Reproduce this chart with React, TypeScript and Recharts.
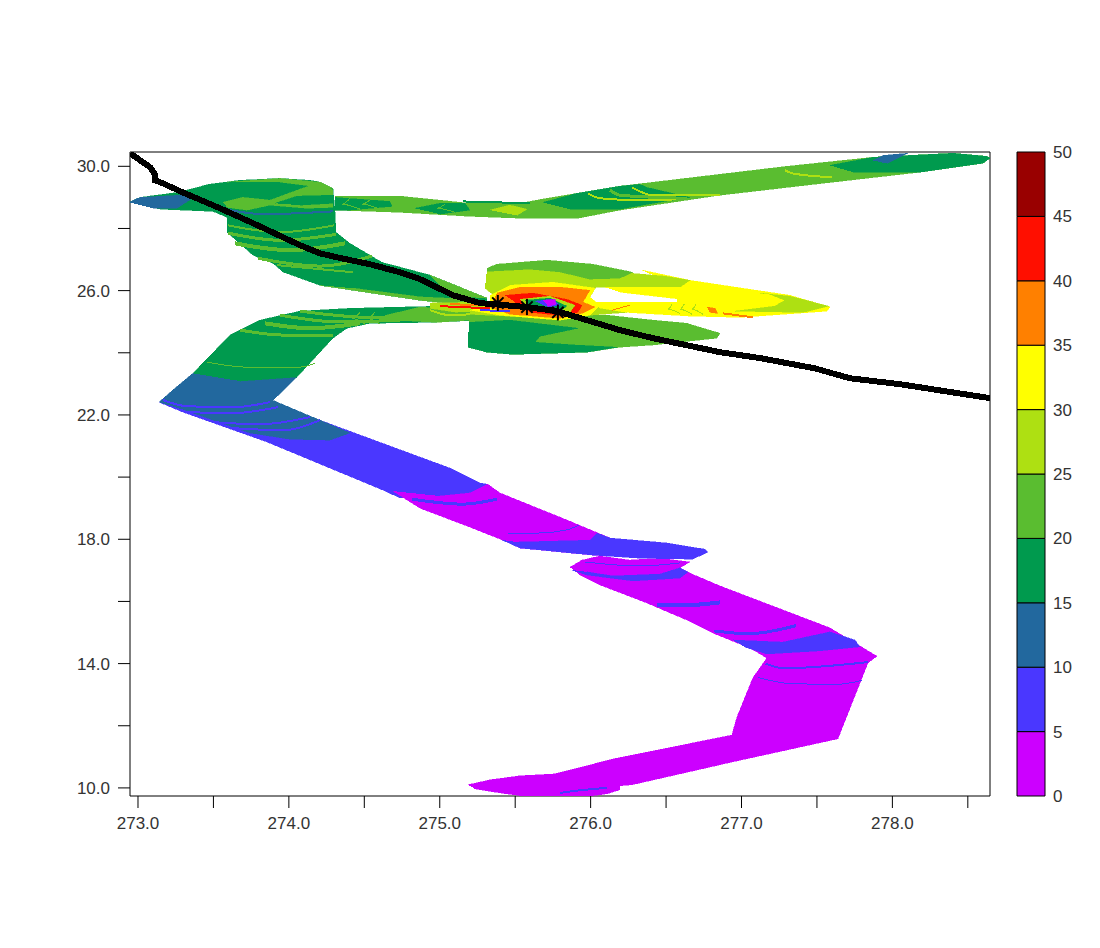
// Swath plot with a track line and a separate stacked colour bar
import { Bar, BarChart, ComposedChart, Scatter, XAxis, YAxis } from "recharts";

type Pt = [number, number];

const xTicks = [273, 273.5, 274, 274.5, 275, 275.5, 276, 276.5, 277, 277.5, 278, 278.5];
const yTicks = [10, 12, 14, 16, 18, 20, 22, 24, 26, 28, 30];
const barTicks = [0, 5, 10, 15, 20, 25, 30, 35, 40, 45, 50];
const barColors = ["#cc00ff", "#4a37ff", "#22689e", "#009a4e", "#5abd30", "#aee012", "#ffff00", "#ff8000", "#ff0f00", "#990000"];
const [c0, c5, c10, c15, c20, c25, c30, c35, c40] = barColors;

// filled areas, lon / lat
const lowerPurple: Pt[] = [[275.187,10.10],[275.333,10.26],[275.531,10.39],[275.763,10.45],[276.148,10.93],[276.936,11.70],[276.97,12.28],[277.075,13.54],[277.168,14.18],[277.32,14.50],[277.897,14.24],[277.838,14.02],[277.639,11.58],[276.943,10.84],[276.274,10.10],[276.194,10.07],[276.194,9.94],[276.108,9.81],[275.995,9.74],[275.551,9.74],[275.399,9.84],[275.233,9.97]];
const upperPurple: Pt[] = [[275.863,17.1],[275.942,17.33],[276.062,17.46],[276.26,17.33],[276.46,17.39],[276.658,17.27],[276.592,17.08],[276.658,16.91],[276.857,16.5],[277.586,15.15],[277.897,14.24],[277.838,14.02],[277.168,14.18],[277.056,14.5],[276.811,14.98],[276.638,15.4],[276.373,15.95],[276.062,16.53],[275.929,16.85]];
const blueSwath: Pt[] = [[273.139,22.41],[273.298,22.09],[273.855,21.13],[274.624,19.58],[274.736,19.33],[275.001,19.39],[275.2,19.49],[275.319,19.77],[275.266,19.81],[275.068,20.29],[274.206,21.83],[273.875,22.41]];
const midPurple: Pt[] = [[274.69,19.55],[274.869,19.0],[275.2,18.39],[275.465,17.88],[275.531,17.72],[276.015,17.49],[276.327,17.46],[276.327,17.81],[276.128,18.04],[275.843,18.62],[275.399,19.49],[275.319,19.77],[275.2,19.49],[275.001,19.39]];
const blueTip: Pt[] = [[275.412,17.98],[275.531,17.72],[276.015,17.49],[276.327,17.39],[276.678,17.36],[276.777,17.59],[276.757,17.68],[276.506,17.88],[276.128,18.04],[276.042,18.2],[275.995,17.97],[275.512,17.91]];
const blueEllipseA: Pt[] = [[275.876,17.01],[275.975,16.85],[276.28,16.66],[276.592,16.75],[276.645,16.95],[276.592,17.08],[276.46,16.88],[276.148,16.82],[275.975,16.95]];
const blueEllipseB: Pt[] = [[276.943,14.76],[277.274,14.69],[277.586,15.02],[277.752,14.76],[277.784,14.54],[277.52,14.41],[277.168,14.31],[277.023,14.53]];
const darkBlue: Pt[] = [[273.139,22.41],[273.245,22.86],[273.364,23.34],[273.61,23.18],[274.054,23.22],[273.895,22.47],[274.206,21.83],[274.405,21.42],[274.272,21.19],[274.007,21.22],[273.742,21.42],[273.312,22.15]];
const greenLower: Pt[] = [[273.364,23.34],[273.61,24.57],[273.808,25.05],[274.074,25.34],[274.405,25.43],[275.001,25.5],[275.2,25.37],[275.266,25.05],[274.935,24.98],[274.537,24.95],[274.385,24.79],[274.292,24.47],[274.054,23.22],[273.676,23.09]];
const greenUpper: Pt[] = [[272.94,28.84],[273.013,29.0],[273.265,29.16],[273.47,29.42],[273.676,29.55],[273.941,29.61],[274.14,29.55],[274.206,29.49],[274.292,29.29],[274.305,28.59],[274.312,27.88],[274.405,27.52],[274.617,26.91],[274.935,26.5],[275.313,25.76],[275.313,25.47],[274.869,25.69],[274.206,26.17],[273.961,26.6],[273.895,26.88],[273.762,27.14],[273.59,27.88],[273.59,28.36],[273.497,28.55],[273.146,28.62]];
const tipBlue: Pt[] = [[272.94,28.84],[273.013,29.0],[273.278,29.07],[273.391,29.07],[273.258,28.65],[273.1,28.65]];
const topLight: Pt[] = [[273.563,28.84],[273.696,29.0],[273.875,28.91],[274.054,29.23],[274.206,29.49],[274.292,29.23],[274.292,28.68],[274.12,28.65],[273.875,28.75],[273.722,28.59],[273.59,28.68]];
const topSwirl: Pt[] = [[273.908,28.81],[274.054,29.04],[274.292,29.07],[274.292,28.81],[274.074,28.75]];
const topRim: Pt[] = [[273.59,29.49],[273.941,29.61],[274.206,29.49],[274.292,29.29],[274.153,29.36],[273.941,29.49]];
const tailLight: Pt[] = [[274.424,26.08],[274.869,25.8],[275.2,25.72],[275.313,25.6],[275.313,25.47],[274.869,25.69],[274.206,26.17]];
const tailRim: Pt[] = [[274.935,26.5],[275.313,25.76],[275.068,25.82]];
const greenRight: Pt[] = [[274.305,29.04],[274.736,29.04],[275.2,28.81],[275.531,28.81],[275.677,28.94],[276.194,29.36],[277.301,30.0],[277.871,30.29],[278.401,30.42],[278.626,30.32],[278.647,30.26],[278.6,30.1],[278.182,29.81],[277.606,29.49],[276.857,29.07],[276.194,28.59],[275.916,28.33],[275.531,28.33],[275.2,28.39],[274.736,28.52],[274.305,28.59]];
const darkEnd: Pt[] = [[277.586,30.03],[277.871,30.29],[278.401,30.42],[278.626,30.32],[278.647,30.26],[278.6,30.1],[278.182,29.81],[277.738,29.81]];
const endBlue: Pt[] = [[277.871,30.19],[277.937,30.35],[278.102,30.42],[277.964,30.09]];
const darkMid: Pt[] = [[275.684,28.84],[275.909,29.13],[276.194,29.36],[276.327,29.42],[276.373,29.32],[276.658,29.0],[276.413,28.81],[276.194,28.62],[275.863,28.62]];
const lensA: Pt[] = [[274.305,29.0],[274.67,28.87],[274.683,28.71],[274.405,28.59],[274.305,28.59]];
const lensB: Pt[] = [[274.836,28.65],[275.001,28.81],[275.167,28.81],[275.2,28.59],[275.001,28.46]];
const ygLens: Pt[] = [[275.333,28.59],[275.465,28.75],[275.578,28.62],[275.512,28.42]];
const lowerEllipse: Pt[] = [[275.2,25.27],[276.108,25.21],[276.413,25.05],[276.638,24.95],[276.724,24.82],[276.857,24.63],[276.837,24.47],[276.413,24.25],[276.194,24.18],[275.975,24.02],[275.484,23.95],[275.313,24.02],[275.187,24.18]];
const lowerDark: Pt[] = [[275.193,24.98],[275.465,25.05],[275.916,24.79],[275.664,24.53],[275.631,24.34],[275.896,24.25],[276.174,24.18],[275.975,24.02],[275.484,23.95],[275.313,24.02],[275.187,24.18]];
const leftLight: Pt[] = [[274.637,25.2],[274.869,25.47],[275.333,25.34],[275.2,25.05],[274.981,24.98],[274.703,25.05]];
const ygBand: Pt[] = [[274.935,25.6],[275.896,25.69],[275.995,25.63],[276.16,25.6],[276.24,25.3],[275.73,25.11],[275.2,25.24],[274.935,25.43]];
const yellowLower: Pt[] = [[275.995,25.63],[276.572,25.63],[277.586,25.47],[277.565,25.34],[276.989,25.14],[276.658,25.18],[276.24,25.3],[276.062,25.44]];
const yellowUpper: Pt[] = [[276.34,26.66],[276.658,26.33],[277.32,25.85],[277.586,25.47],[276.572,25.63],[276.592,26.11]];
const yellowStrip: Pt[] = [[276.095,26.11],[276.592,26.11],[276.658,25.69],[276.194,25.95]];
const ygUpper: Pt[] = [[275.313,26.66],[275.73,26.72],[276.015,26.66],[276.34,26.53],[276.5,26.46],[276.658,26.33],[276.592,26.11],[276.307,26.11],[276.035,26.11],[275.995,25.79],[275.896,25.6],[275.399,25.69],[275.299,26.08]];
const tipYg: Pt[] = [[277.122,25.92],[277.32,25.82],[277.579,25.5],[277.407,25.3],[276.956,25.34],[277.221,25.5],[277.287,25.69],[277.188,25.88]];
const lightUpper: Pt[] = [[275.313,26.72],[275.379,26.85],[275.711,26.98],[276.015,26.85],[276.28,26.59],[276.194,26.4],[275.995,26.37],[275.797,26.6],[275.598,26.69],[275.313,26.62]];
const coreYellow: Pt[] = [[275.333,25.85],[275.465,26.17],[275.75,26.27],[276.029,26.08],[275.995,25.79],[276.062,25.53],[275.995,25.21],[275.797,25.05],[275.399,25.21],[275.2,25.37],[275.333,25.53]];
const coreOrange: Pt[] = [[275.379,25.92],[275.531,26.11],[275.797,26.11],[275.995,26.01],[275.949,25.63],[276.029,25.47],[275.929,25.24],[275.797,25.11],[275.465,25.24],[275.333,25.47]];
const coreRed: Pt[] = [[275.432,25.85],[275.618,25.92],[275.843,25.72],[275.942,25.53],[275.916,25.3],[275.797,25.21],[275.598,25.3]];
const coreYg: Pt[] = [[275.531,25.72],[275.73,25.82],[275.896,25.53],[275.863,25.3],[275.598,25.4]];
const coreGreen: Pt[] = [[275.565,25.69],[275.73,25.76],[275.843,25.5],[275.797,25.34],[275.598,25.47]];
const coreBlue: Pt[] = [[275.631,25.66],[275.743,25.72],[275.797,25.53],[275.717,25.47]];
const corePurple: Pt[] = [[275.684,25.69],[275.764,25.72],[275.77,25.56],[275.717,25.5]];
const orangeBlob: Pt[] = [[276.771,25.47],[276.824,25.43],[276.843,25.27],[276.79,25.3]];

const areas: [Pt[], string][] = [
  [lowerPurple, c0], [upperPurple, c0], [blueSwath, c5], [midPurple, c0], [blueTip, c5], [blueEllipseA, c5], [blueEllipseB, c5], [darkBlue, c10],
  [greenLower, c15], [greenUpper, c15], [tipBlue, c10], [greenRight, c20], [topLight, c20], [topSwirl, c15], [topRim, c20], [tailLight, c20], [tailRim, c20],
  [darkEnd, c15], [endBlue, c10], [darkMid, c15], [lensA, c15], [lensB, c15], [ygLens, c25],
  [lowerEllipse, c20], [lowerDark, c15], [leftLight, c20], [ygBand, c25], [yellowLower, c30], [yellowUpper, c30], [ygUpper, c25], [yellowStrip, c30], [tipYg, c25], [lightUpper, c20],
  [coreYellow, c30], [coreOrange, c35], [coreRed, c40], [coreYg, c25], [coreGreen, c15], [coreBlue, c5], [corePurple, c0], [orangeBlob, c35],
];

// thin contour arcs
const strips: [Pt[], string, number][] = [
  [[[273.166,22.48],[273.325,22.28],[273.63,22.25],[273.875,22.41]], c5, 2],
  [[[273.325,22.09],[273.63,22.06],[273.928,22.25]], c5, 2],
  [[[273.497,21.77],[273.808,21.7],[274.14,21.93]], c5, 2],
  [[[273.61,21.58],[273.961,21.51],[274.206,21.83]], c5, 2],
  [[[274.816,19.29],[275.155,19.13],[275.379,19.29]], c5, 3],
  [[[275.45,18.2],[275.65,18.2],[275.84,18.3],[275.92,18.45]], c5, 1],
  [[[276.44,15.9],[276.6,15.87],[276.86,15.97]], c5, 4],
  [[[276.82,15.05],[277.05,14.96],[277.36,15.22]], c5, 3],
  [[[277.16,14.0],[277.28,13.85],[277.84,14.05]], c5, 2],
  [[[277.11,13.55],[277.32,13.36],[277.63,13.33],[277.8,13.46]], c5, 1],
  [[[275.797,9.84],[275.962,9.94],[276.108,10.0]], c5, 2],
  [[[275.962,17.27],[276.327,17.14],[276.592,17.24]], c5, 1],
  [[[273.457,23.7],[273.722,23.54],[274.074,23.54],[274.173,23.66]], c20, 1],
  [[[273.676,24.73],[273.961,24.57],[274.292,24.57]], c20, 3],
  [[[273.84,24.95],[274.14,24.79],[274.471,24.95]], c20, 4],
  [[[273.941,25.21],[274.338,24.99],[274.935,25.11]], c20, 3],
  [[[274.074,25.34],[274.537,25.14],[275.2,25.27]], c20, 3],
  [[[274.471,25.3],[274.418,25.11],[274.504,24.92]], c20, 1],
  [[[274.57,25.3],[274.518,25.11],[274.604,24.92]], c20, 1],
  [[[273.596,28.1],[273.941,27.88],[274.299,28.1]], c20, 2],
  [[[273.596,27.85],[273.941,27.62],[274.312,27.81]], c20, 3],
  [[[273.643,27.52],[274.008,27.3],[274.372,27.52]], c20, 4],
  [[[273.795,27.04],[274.206,26.79],[274.55,27.11]], c20, 3],
  [[[273.921,26.82],[274.425,26.59]], c20, 2],
  [[[273.61,28.59],[273.829,28.46],[274.292,28.55]], c10, 2],
  [[[274.55,28.97],[274.485,28.78],[274.604,28.62]], c20, 1],
  [[[274.405,28.97],[274.352,28.78],[274.471,28.62]], c20, 1],
  [[[275.034,28.78],[274.982,28.65],[275.101,28.52]], c20, 1],
  [[[275.154,28.87],[275.597,28.81]], c15, 2],
  [[[275.982,29.13],[276.062,28.97],[276.327,28.91],[276.592,28.94]], c25, 2],
  [[[276.274,29.32],[276.413,29.07],[276.857,29.09]], c25, 2],
  [[[276.128,29.23],[276.194,29.07],[276.638,28.97]], c20, 3],
  [[[277.288,29.87],[277.34,29.77],[277.6,29.65]], c25, 2],
  [[[275.001,25.5],[275.333,25.43]], c40, 2],
  [[[275.068,25.56],[275.366,25.53]], c35, 2],
  [[[275.266,25.37],[275.465,25.34]], c5, 2],
  [[[274.935,25.37],[275.068,25.21],[275.2,25.24]], c25, 2],
  [[[276.54,25.56],[276.512,25.4],[276.592,25.27]], c25, 1],
  [[[276.62,25.56],[276.592,25.4],[276.671,25.24]], c25, 1],
  [[[276.698,25.56],[276.671,25.4],[276.744,25.24]], c25, 1],
  [[[276.877,25.27],[277.076,25.14]], c35, 2],
  [[[276.141,25.37],[276.26,25.53]], c35, 1],
];

const track: Pt[] = [[272.947,30.42],[273.033,30.13],[273.08,29.97],[273.113,29.74],[273.113,29.55],[273.166,29.45],[273.278,29.2],[273.543,28.65],[273.762,28.17],[274.074,27.46],[274.206,27.2],[274.32,27.07],[274.537,26.85],[274.736,26.59],[274.869,26.37],[275.088,25.85],[275.266,25.6],[275.578,25.47],[275.777,25.34],[275.975,25.05],[276.194,24.73],[276.413,24.47],[276.857,24.02],[277.122,23.83],[277.486,23.5],[277.718,23.18],[278.05,22.99],[278.647,22.54]];
const stars: Pt[] = [[275.385,25.6],[275.578,25.47],[275.783,25.3]];

const rows = (pts: Pt[]) => pts.map(([x, y]) => ({ x, y }));
const barRow = Object.fromEntries([["name", "scale"], ...barColors.map((_, i) => [`s${i}`, 5])]);

const tickFont = { fontFamily: "Liberation Sans", fontSize: 17, fill: "#333" };
const noPoint = () => <g />;

function Asterisk({ cx, cy }: { cx?: number; cy?: number }) {
  const r = 8;
  const d = 5.7;
  return (
    <path
      d={`M${cx! - r} ${cy}H${cx! + r}M${cx} ${cy! - r}V${cy! + r}M${cx! - d} ${cy! - d}L${cx! + d} ${cy! + d}M${cx! - d} ${cy! + d}L${cx! + d} ${cy! - d}`}
      stroke="#000"
      strokeWidth={2}
      fill="none"
    />
  );
}

export default function App() {
  return (
    <div style={{ position: "absolute", left: 0, top: 0, width: 1100, height: 948, background: "#fff" }}>
      <ComposedChart width={1100} height={948} margin={{ top: 140, right: 98, bottom: 112, left: 70 }}>
        <XAxis
          xAxisId="b"
          dataKey="x"
          type="number"
          domain={[272.947, 278.647]}
          ticks={xTicks}
          interval={0}
          allowDataOverflow
          height={40}
          tickSize={12}
          tickMargin={9}
          stroke="#000"
          tick={tickFont}
          tickFormatter={(v: number) => (Number.isInteger(v) ? v.toFixed(1) : "")}
        />
        <XAxis
          xAxisId="t"
          orientation="top"
          dataKey="x"
          type="number"
          domain={[272.947, 278.647]}
          ticks={xTicks}
          interval={0}
          allowDataOverflow
          height={12}
          tickSize={12}
          stroke="#000"
          tick={false}
        />
        <YAxis
          yAxisId="l"
          dataKey="y"
          type="number"
          domain={[9.74, 30.46]}
          ticks={yTicks}
          interval={0}
          allowDataOverflow
          width={60}
          tickSize={12}
          tickMargin={8}
          stroke="#000"
          tick={tickFont}
          tickFormatter={(v: number) => (v % 4 === 2 ? v.toFixed(1) : "")}
        />
        <YAxis
          yAxisId="r"
          orientation="right"
          dataKey="y"
          type="number"
          domain={[9.74, 30.46]}
          ticks={yTicks}
          interval={0}
          allowDataOverflow
          width={12}
          tickSize={12}
          stroke="#000"
          tick={false}
        />
        {areas.map(([pts, color], i) => (
          <Scatter
            key={`a${i}`}
            xAxisId="b"
            yAxisId="l"
            data={rows(pts)}
            shape={noPoint}
            line={{ fill: color, stroke: color, strokeWidth: 0.5, shapeRendering: "crispEdges" }}
            isAnimationActive={false}
          />
        ))}
        {strips.map(([pts, color, w], i) => (
          <Scatter
            key={`s${i}`}
            xAxisId="b"
            yAxisId="l"
            data={rows(pts)}
            shape={noPoint}
            line={{ fill: "none", stroke: color, strokeWidth: w, shapeRendering: "crispEdges" }}
            lineJointType="monotoneX"
            isAnimationActive={false}
          />
        ))}
        <Scatter
          xAxisId="b"
          yAxisId="l"
          data={rows(track)}
          shape={noPoint}
          line={{ fill: "none", stroke: "#000", strokeWidth: 6, shapeRendering: "crispEdges" }}
          isAnimationActive={false}
        />
        <Scatter xAxisId="b" yAxisId="l" data={rows(stars)} shape={<Asterisk />} isAnimationActive={false} />
      </ComposedChart>
      <div style={{ position: "absolute", left: 1000, top: 0 }}>
        <BarChart width={100} height={948} data={[barRow]} barCategoryGap={0} margin={{ top: 152, right: 0, bottom: 152, left: 17 }}>
          <XAxis dataKey="name" hide />
          <YAxis
            orientation="right"
            type="number"
            domain={[0, 50]}
            ticks={barTicks}
            interval={0}
            width={55}
            axisLine={false}
            tickLine={false}
            tickMargin={2}
            tick={tickFont}
          />
          {barColors.map((color, i) => (
            <Bar key={color} dataKey={`s${i}`} stackId="scale" fill={color} stroke="#000" strokeWidth={1} isAnimationActive={false} />
          ))}
        </BarChart>
      </div>
    </div>
  );
}
